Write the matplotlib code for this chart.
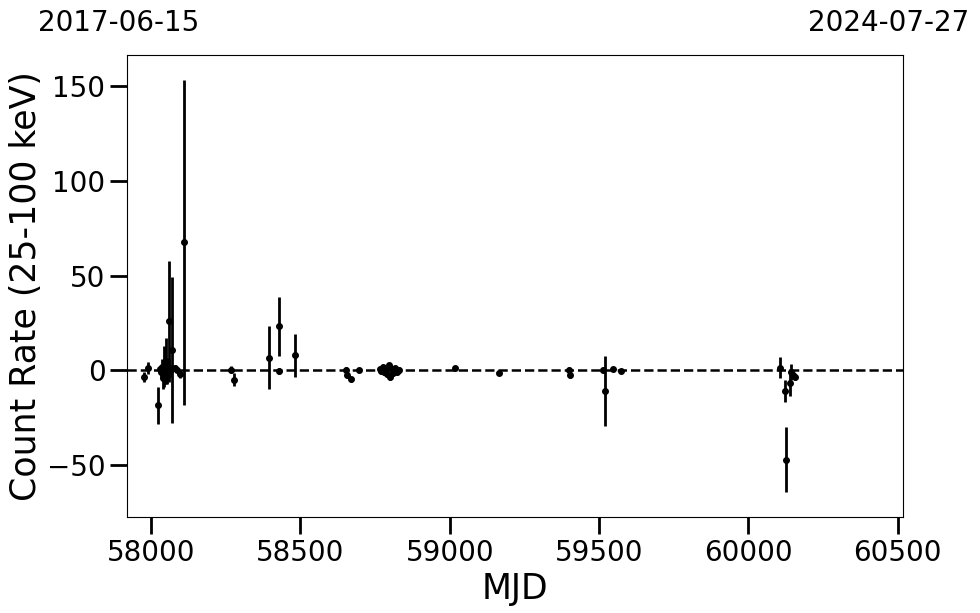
#!/usr/bin/env python3
"""Light curve of count rate (25-100 keV) vs MJD."""

import matplotlib
matplotlib.use("Agg")
import matplotlib.pyplot as plt

MJD_START = 57919
MJD_END = 60518
DATE_START = "2017-06-15"
DATE_END = "2024-07-27"

mjd = [
    57976, 57988, 58024, 58030, 58034, 58037, 58040, 58042, 58045, 58047,
    58050, 58052, 58055, 58058, 58061, 58064, 58069, 58080, 58086, 58095,
    58111,
    58268, 58276, 58394, 58427, 58428, 58483,
    58651, 58657, 58668, 58696,
    58765, 58770, 58775, 58780, 58785, 58790, 58795, 58800, 58805, 58810,
    58815, 58822, 58830,
    59018, 59166, 59398, 59404, 59512, 59521, 59546, 59574,
    60105, 60124, 60125, 60138, 60144, 60151, 60157,
]
rate = [
    -3.7, 1.2, -18.5, 0.5, -1.0, 2.0, -4.0, 2.0, -3.0, 3.5,
    5.0, -1.0, 0.5, 26.0, 1.0, -0.5, 10.6, 1.2, 0.4, -2.0,
    67.6,
    0.4, -4.9, 6.7, 23.2, -0.5, 7.9,
    0.4, -2.6, -4.8, 0.0,
    0.5, -0.5, 1.5, -1.0, 0.0, -2.0, 2.6, -3.5, 0.5, -1.5,
    1.0, -0.8, 0.3,
    1.2, -1.2, 0.4, -2.3, 0.4, -11.0, 0.9, -0.4,
    1.4, -11.0, -47.2, -6.5, -0.9, -2.3, -3.5,
]
rate_err = [
    2.6, 3.0, 9.7, 2.0, 3.0, 4.0, 6.0, 11.0, 4.0, 9.0,
    12.0, 6.0, 4.0, 32.0, 5.0, 3.0, 38.5, 1.5, 1.5, 2.0,
    86.0,
    2.0, 3.4, 16.7, 15.7, 1.5, 11.5,
    1.5, 1.5, 1.5, 1.0,
    1.5, 1.5, 1.5, 1.5, 1.5, 1.5, 1.5, 1.5, 1.5, 1.5,
    1.5, 1.5, 1.5,
    1.0, 1.0, 1.5, 1.5, 1.5, 18.5, 1.0, 1.0,
    5.5, 5.8, 17.0, 7.0, 4.0, 1.5, 1.5,
]


def main() -> None:
    fig = plt.figure(figsize=(9.8, 6.13), dpi=100)
    ax = fig.add_axes([0.1296, 0.1566, 0.7918, 0.7534])

    ax.errorbar(mjd, rate, yerr=rate_err, fmt="o", color="black",
                ecolor="black", markersize=4, elinewidth=2, capsize=0)
    ax.axhline(0, color="black", linestyle="--", linewidth=1.8, zorder=0)

    ax.set_xlim(MJD_START, MJD_END)
    ax.set_ylim(-77.5, 166.5)
    ax.set_xticks([58000, 58500, 59000, 59500, 60000, 60500])
    ax.set_yticks([-50, 0, 50, 100, 150])
    ax.tick_params(axis="both", labelsize=20, length=12, width=2)

    ax.set_xlabel("MJD", fontsize=25, labelpad=4)
    ax.set_ylabel("Count Rate (25-100 keV)", fontsize=25, labelpad=3)

    fig.text(0.121, 0.963, DATE_START, fontsize=20, ha="center", va="center")
    fig.text(0.907, 0.963, DATE_END, fontsize=20, ha="center", va="center")

    fig.savefig("out.png", dpi=100)
    plt.close(fig)


if __name__ == "__main__":
    main()
